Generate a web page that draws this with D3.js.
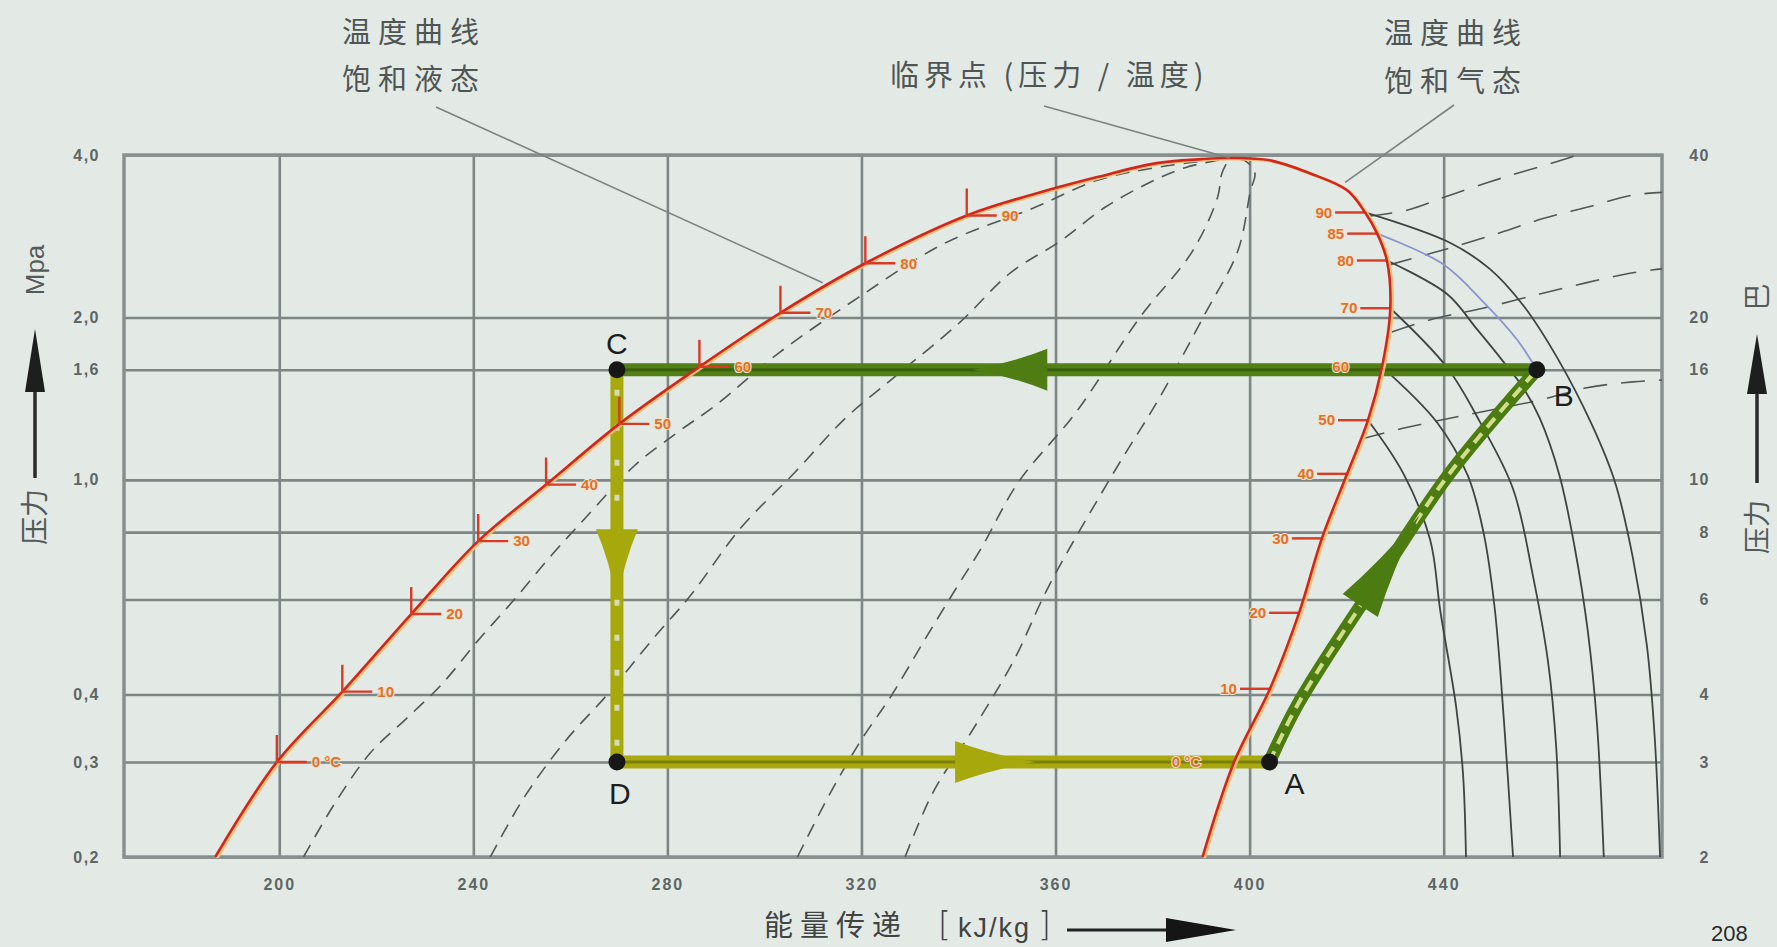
<!DOCTYPE html>
<html><head><meta charset="utf-8">
<script src="https://cdn.jsdelivr.net/npm/d3@7"></script>
<style>
html,body{margin:0;padding:0;background:#e3eae6;overflow:hidden;}
svg{display:block;}
</style></head><body>
<svg id="chart" width="1777" height="947"></svg>
<script>
// ================= DATA =================
const hTicks = [200, 240, 280, 320, 360, 400, 440];
const hDomain = [168, 485];
const pDomain = [0.2, 4.0];
const pTicks = [0.2, 0.3, 0.4, 0.6, 0.8, 1.0, 1.6, 2.0, 4.0];
const pTickLabels = ["0,2", "0,3", "0,4", "", "", "1,0", "1,6", "2,0", "4,0"];
const barTickLabels = ["2", "3", "4", "6", "8", "10", "16", "20", "40"];

// saturation dome  [h kJ/kg, p MPa]
const satLiquid = [[186.8,0.2],[199.5,0.3],[213.0,0.405],[227.2,0.564],[241.0,0.77],[255.0,0.98],[270.1,1.27],[286.6,1.62],[303.3,2.04],[320.8,2.52],[341.7,3.09],[355.8,3.39],[368.6,3.64],[380.5,3.86],[390.0,3.93]];
const criticalPoint = [395.9, 3.95];
const satVapor = [[404.2,3.91],[412.4,3.70],[420.1,3.44],[423.8,3.13],[426.3,2.86],[428.3,2.55],[429.0,2.08],[427.3,1.62],[424.4,1.29],[420.1,1.026],[414.9,0.779],[410.2,0.567],[404.2,0.41],[396.8,0.3],[390.3,0.2]];

// temperature marks
const liquidTemps = [0, 10, 20, 30, 40, 50, 60, 70, 80, 90];
const liquidTempH = [199.5, 213.0, 227.2, 241.0, 255.0, 270.1, 286.6, 303.3, 320.8, 341.7];
const liquidTempP = [0.3, 0.405, 0.564, 0.77, 0.98, 1.27, 1.62, 2.04, 2.52, 3.09];
const vaporTemps = [0, 10, 20, 30, 40, 50, 60, 70, 80, 85, 90];
const vaporTempH = [396.8, 404.2, 410.2, 414.9, 420.1, 424.4, 427.3, 429.0, 428.3, 426.3, 423.8];
const vaporTempP = [0.3, 0.41, 0.567, 0.779, 1.026, 1.29, 1.62, 2.08, 2.55, 2.86, 3.13];

// constant-quality lines (dashed, inside dome)
const quality1 = [[205.0,0.2],[211.4,0.251],[218.8,0.312],[226.2,0.361],[233.5,0.418],[240.9,0.503],[248.3,0.598],[256.3,0.728],[262.9,0.846],[273.2,1.062],[282.1,1.225],[290.0,1.376],[302.8,1.714],[319.1,2.17],[337.0,2.74],[355.8,3.20],[368.6,3.59],[381.4,3.80]];
const quality2 = [[243.5,0.2],[250.6,0.259],[259.2,0.330],[267.3,0.397],[277.0,0.507],[284.8,0.611],[295.1,0.814],[306.2,1.031],[316.7,1.301],[326.6,1.546],[340.4,1.963],[350.7,2.42],[361.0,2.77],[370.2,3.20],[379.5,3.56],[386.7,3.79]];
const quality3 = [[306.8,0.2],[313.6,0.263],[320.0,0.330],[326.3,0.4],[332.9,0.503],[339.3,0.625],[344.8,0.750],[352.3,0.989],[364.3,1.337],[377.2,1.99],[388.3,2.66],[393.4,3.34],[394.3,3.70]];
const quality4 = [[329.0,0.2],[334.7,0.263],[343.0,0.345],[351.3,0.461],[358.6,0.635],[372.0,1.032],[381.4,1.418],[390.8,2.03],[397.6,2.66],[400.2,3.44],[401.1,3.70],[399.1,3.90]];

// isotherms in superheated region (solid)
const iso50 = [[424.4,1.29],[431.6,1.031],[437.2,0.775],[439.3,0.572],[442.6,0.378],[444.0,0.284],[444.6,0.2]];
const iso60 = [[427.3,1.62],[438.6,1.279],[445.0,1.017],[448.2,0.8],[450.5,0.58],[452.4,0.36],[454.3,0.2]];
const iso70 = [[429.0,2.08],[440.7,1.615],[447.5,1.279],[454.3,0.962],[458.4,0.664],[461.5,0.461],[463.2,0.319],[464.0,0.2]];
const iso80 = [[428.3,2.55],[440.7,2.21],[446.9,1.90],[452.2,1.66],[456.4,1.481],[459.8,1.301],[463.9,1.017],[467.0,0.750],[469.7,0.525],[471.6,0.353],[473.0,0.2]];
const iso90 = [[423.8,3.13],[441.3,2.75],[449.5,2.46],[456.5,2.10],[463.3,1.69],[470.5,1.268],[475.3,0.991],[479.0,0.717],[481.9,0.492],[483.5,0.333],[484.6,0.2]];
const iso85 = [[426.3,2.86],[439.9,2.51],[448.1,2.14],[455.1,1.82],[459.2,1.6]];

// isentropes in superheated region (dashed)
const isen1 = [[424.5,3.08],[432.4,3.16],[441.3,3.37],[452.6,3.64],[464.2,3.91],[467.5,4.0]];
const isen2 = [[428.6,2.50],[441.3,2.69],[451.6,2.87],[460.5,3.05],[469.5,3.20],[479.0,3.37],[485.0,3.41]];
const isen3 = [[429.3,1.88],[438.6,1.995],[448.1,2.08],[459.8,2.21],[469.5,2.32],[479.0,2.42],[485.0,2.46]];
const isen4 = [[423.0,1.19],[431.6,1.246],[441.3,1.301],[459.8,1.406],[469.5,1.481],[479.0,1.519],[485.0,1.531]];

// refrigeration cycle
const cycleNames = ["A", "B", "C", "D"];
const cycleH = [404.1, 459.2, 269.6, 269.6];
const cycleP = [0.3, 1.6, 1.6, 0.3];
const compression = [[404.1,0.3],[410.1,0.386],[427.5,0.675],[441.3,1.03],[459.2,1.6]];
// arrowheads: [base, tip]
const flowArrows = [
  [[358.3,1.6],[342.9,1.6]],
  [[269.6,0.81],[269.6,0.598]],
  [[339.3,0.3],[355.8,0.3]],
  [[422.8,0.585],[435.0,0.86]]
];

// annotation anchors on the chart [h, p]
const anchorLiquid = [312.0, 2.32];
const anchorVapor = [419.7, 3.56];

// ================= DRAW =================
const W = 1777, H = 947;
const L = 124, R = 1662, T = 155, B = 857;
const x = d3.scaleLinear().domain(hDomain).range([L, R]);
const y = d3.scaleLog().domain(pDomain).range([B, T]);
const svg = d3.select("#chart");
svg.append("rect").attr("width", W).attr("height", H).attr("fill", "#e3eae6");

svg.append("defs").append("clipPath").attr("id", "plot")
  .append("rect").attr("x", L).attr("y", T - 2).attr("width", R - L).attr("height", B - T + 2);

const gridColor = "#7d8684";
// grid via axes
const gx = svg.append("g").attr("transform", `translate(0,${B})`)
  .call(d3.axisBottom(x).tickValues(hTicks).tickSize(-(B - T)).tickFormat(""));
gx.select(".domain").remove();
gx.selectAll("line").attr("stroke", gridColor).attr("stroke-width", 2.6);
const gy = svg.append("g").attr("transform", `translate(${L},0)`)
  .call(d3.axisLeft(y).tickValues(pTicks).tickSize(-(R - L)).tickFormat(""));
gy.select(".domain").remove();
gy.selectAll("line").attr("stroke", gridColor).attr("stroke-width", 2.6);
svg.append("rect").attr("x", L).attr("y", T).attr("width", R - L).attr("height", B - T)
  .attr("fill", "none").attr("stroke", "#87908e").attr("stroke-width", 3.5);

// tick labels
const tickFont = "'Liberation Sans', Arial, sans-serif";
const axL = svg.append("g").attr("transform", `translate(${L},0)`)
  .call(d3.axisLeft(y).tickValues(pTicks).tickSize(0).tickPadding(24)
    .tickFormat(d => pTickLabels[pTicks.indexOf(d)]));
axL.select(".domain").remove();
axL.selectAll("text").attr("font-size", 16).attr("font-family", tickFont)
  .attr("fill", "#5d6664").attr("letter-spacing", 1.5).attr("font-weight", "bold");
const axR = svg.append("g").attr("transform", `translate(${R},0)`)
  .call(d3.axisRight(y).tickValues(pTicks).tickSize(0).tickPadding(0)
    .tickFormat(d => barTickLabels[pTicks.indexOf(d)]));
axR.select(".domain").remove();
axR.selectAll("text").attr("x", 48).attr("text-anchor", "end").attr("font-size", 16)
  .attr("font-family", tickFont).attr("fill", "#5d6664").attr("letter-spacing", 1.5).attr("font-weight", "bold");
const axB = svg.append("g").attr("transform", `translate(0,${B})`)
  .call(d3.axisBottom(x).tickValues(hTicks).tickSize(0).tickPadding(22));
axB.select(".domain").remove();
axB.selectAll("text").attr("font-size", 16).attr("font-family", tickFont)
  .attr("fill", "#5d6664").attr("letter-spacing", 2).attr("font-weight", "bold");

const line = d3.line().x(d => x(d[0])).y(d => y(d[1])).curve(d3.curveCatmullRom.alpha(0.5));
const plot = svg.append("g").attr("clip-path", "url(#plot)");

// quality dashed lines
[quality1, quality2, quality3, quality4].forEach(q => {
  plot.append("path").attr("d", line(q.concat([criticalPoint]))).attr("fill", "none")
    .attr("stroke", "#4f5856").attr("stroke-width", 1.6).attr("stroke-dasharray", "14,9");
});
// isentropes
[isen1, isen2, isen3, isen4].forEach(s => {
  plot.append("path").attr("d", line(s)).attr("fill", "none")
    .attr("stroke", "#4f5856").attr("stroke-width", 1.6).attr("stroke-dasharray", "24,14");
});
// isotherms
[iso50, iso60, iso70, iso80, iso90].forEach(s => {
  plot.append("path").attr("d", line(s)).attr("fill", "none")
    .attr("stroke", "#3d4543").attr("stroke-width", 1.8);
});
plot.append("path").attr("d", line(iso85)).attr("fill", "none")
  .attr("stroke", "#8c95cc").attr("stroke-width", 1.8);

// vapor tick lines (beneath cycle)
const tickRed = "#d83a24";
const vMarks = vaporTemps.map((t, i) => ({ t, h: vaporTempH[i], p: vaporTempP[i] }));
const lMarks = liquidTemps.map((t, i) => ({ t, h: liquidTempH[i], p: liquidTempP[i] }));
svg.append("g").selectAll("line").data(vMarks).join("line")
  .attr("x1", d => x(d.h)).attr("x2", d => x(d.h) - 30)
  .attr("y1", d => y(d.p)).attr("y2", d => y(d.p))
  .attr("stroke", tickRed).attr("stroke-width", 2.4);

// cycle lines
const cy = svg.append("g");
const P = i => [x(cycleH[i]), y(cycleP[i])];
const segs = d3.line();
// C -> D (yellow vertical)
cy.append("path").attr("d", segs([P(2), P(3)])).attr("stroke", "#a7a80c").attr("stroke-width", 13).attr("fill", "none");
cy.append("path").attr("d", segs([P(2), P(3)])).attr("stroke", "#d3dcb6").attr("stroke-width", 5)
  .attr("stroke-dasharray", "6,29").attr("stroke-dashoffset", -20).attr("fill", "none");
// D -> A (yellow horizontal)
cy.append("path").attr("d", segs([P(3), P(0)])).attr("stroke", "#a9a80f").attr("stroke-width", 13).attr("fill", "none");
cy.append("path").attr("d", segs([P(3), P(0)])).attr("stroke", "#7a800c").attr("stroke-width", 3).attr("fill", "none");
// B -> C (green)
cy.append("path").attr("d", segs([P(1), P(2)])).attr("stroke", "#527f16").attr("stroke-width", 13).attr("fill", "none");
cy.append("path").attr("d", segs([P(1), P(2)])).attr("stroke", "#3b600d").attr("stroke-width", 3).attr("fill", "none");
// A -> B (green, compression)
cy.append("path").attr("d", line(compression)).attr("stroke", "#4c7b12").attr("stroke-width", 13).attr("fill", "none");
cy.append("path").attr("d", line(compression)).attr("stroke", "#d0de8a").attr("stroke-width", 4)
  .attr("stroke-dasharray", "12,8").attr("fill", "none");

const arrowColors = ["#4f7d14", "#a6a80c", "#a6a80c", "#4c7b12"];
flowArrows.forEach((a, i) => {
  const x0 = x(a[0][0]), y0 = y(a[0][1]), x1 = x(a[1][0]), y1 = y(a[1][1]);
  const dx = x1 - x0, dy = y1 - y0, len = Math.hypot(dx, dy), nx = -dy / len, ny = dx / len;
  const hw = 21;
  const mx = x0 + dx * 0.45, my = y0 + dy * 0.45;
  cy.append("path")
    .attr("d", `M${x0 + nx * hw},${y0 + ny * hw}Q${mx + nx * hw * 0.35},${my + ny * hw * 0.35} ${x1},${y1}Q${mx - nx * hw * 0.35},${my - ny * hw * 0.35} ${x0 - nx * hw},${y0 - ny * hw}Z`)
    .attr("fill", arrowColors[i]);
});

// saturation dome (red)
const dome = satLiquid.concat([criticalPoint], satVapor);
svg.append("path").attr("d", line(dome)).attr("fill", "none").attr("transform", "translate(2,1)")
  .attr("stroke", "#f1c27a").attr("stroke-width", 3).attr("clip-path", "url(#plot)");
svg.append("path").attr("d", line(dome)).attr("fill", "none")
  .attr("stroke", "#d3261b").attr("stroke-width", 2.6).attr("clip-path", "url(#plot)");

// liquid L-marks
const lm = svg.append("g");
lm.selectAll("path").data(lMarks).join("path")
  .attr("d", d => { const a = x(d.h), b = y(d.p); return `M${a},${b - 27}L${a},${b}L${a + 30},${b}`; })
  .attr("fill", "none").attr("stroke", tickRed).attr("stroke-width", 2.4);
const tempFont = "'Liberation Sans', Arial, sans-serif";
const tempLabel = t => t === 0 ? "0 °C" : String(t);
lm.selectAll("text").data(lMarks).join("text")
  .attr("x", d => x(d.h) + 35).attr("y", d => y(d.p)).attr("dy", "0.35em")
  .attr("font-size", 15).attr("font-family", tempFont).attr("font-weight", "bold")
  .attr("fill", "#e0702c").attr("stroke", "#f6e4cc").attr("stroke-width", 2).attr("paint-order", "stroke")
  .text(d => tempLabel(d.t));
svg.append("g").selectAll("text").data(vMarks).join("text")
  .attr("x", d => x(d.h) - 33).attr("y", d => y(d.p)).attr("dy", "0.35em").attr("text-anchor", "end")
  .attr("font-size", 15).attr("font-family", tempFont).attr("font-weight", "bold")
  .attr("fill", "#e0702c").attr("stroke", "#f6e4cc").attr("stroke-width", 2).attr("paint-order", "stroke")
  .text(d => tempLabel(d.t));

// cycle points and letters
const pts = cycleNames.map((n, i) => ({ n, h: cycleH[i], p: cycleP[i] }));
svg.append("g").selectAll("circle").data(pts).join("circle")
  .attr("cx", d => x(d.h)).attr("cy", d => y(d.p)).attr("r", 8.5).attr("fill", "#161716");
const letterOff = { A: [25, 32], B: [27, 36], C: [0, -16], D: [3, 42] };
svg.append("g").selectAll("text").data(pts).join("text")
  .attr("x", d => x(d.h) + letterOff[d.n][0]).attr("y", d => y(d.p) + letterOff[d.n][1])
  .attr("text-anchor", "middle").attr("font-size", 30).attr("font-family", "'Liberation Sans', Arial, sans-serif")
  .attr("fill", "#1c1e1d").text(d => d.n);

// ================= TEXT / ANNOTATIONS =================
const cjk = "'Noto Sans CJK SC', 'Noto Sans', sans-serif";
const annColor = "#4f5554";
const ann = svg.append("g").attr("font-family", cjk).attr("fill", annColor).attr("font-size", 29);
ann.append("text").attr("x", 342).attr("y", 43).attr("letter-spacing", 7).text("温度曲线");
ann.append("text").attr("x", 342).attr("y", 90).attr("letter-spacing", 7).text("饱和液态");
ann.append("text").attr("x", 1384).attr("y", 44).attr("letter-spacing", 7).text("温度曲线");
ann.append("text").attr("x", 1384).attr("y", 92).attr("letter-spacing", 7).text("饱和气态");
ann.append("text").attr("x", 890).attr("y", 86).attr("letter-spacing", 5).text("临界点 (压力 / 温度)");

const leaders = svg.append("g").attr("stroke", "#7a8381").attr("stroke-width", 1.6).attr("fill", "none");
leaders.append("line").attr("x1", 436).attr("y1", 107).attr("x2", x(anchorLiquid[0])).attr("y2", y(anchorLiquid[1]));
leaders.append("line").attr("x1", 1044).attr("y1", 106).attr("x2", x(criticalPoint[0])).attr("y2", y(criticalPoint[1]));
leaders.append("line").attr("x1", 1454).attr("y1", 105).attr("x2", x(anchorVapor[0])).attr("y2", y(anchorVapor[1]));

// left axis title
const lt = svg.append("g").attr("font-family", cjk).attr("fill", "#545a59");
lt.append("text").attr("transform", "translate(44,270) rotate(-90)").attr("text-anchor", "middle")
  .attr("font-family", "'Liberation Sans', Arial, sans-serif").attr("font-size", 26).text("Mpa");
lt.append("line").attr("x1", 35).attr("x2", 35).attr("y1", 478).attr("y2", 380).attr("stroke", "#2a2c2b").attr("stroke-width", 3.5);
lt.append("path").attr("d", "M35,329L25,392L45,392Z").attr("fill", "#1d1f1e");
lt.append("text").attr("transform", "translate(45,517) rotate(-90)").attr("text-anchor", "middle")
  .attr("font-size", 28).text("压力");

// right axis title
const rt = svg.append("g").attr("font-family", cjk).attr("fill", "#545a59");
rt.append("text").attr("transform", "translate(1767,297) rotate(-90)").attr("text-anchor", "middle")
  .attr("font-size", 27).text("巴");
rt.append("line").attr("x1", 1757).attr("x2", 1757).attr("y1", 483).attr("y2", 385).attr("stroke", "#2a2c2b").attr("stroke-width", 3.5);
rt.append("path").attr("d", "M1757,334L1747,394L1767,394Z").attr("fill", "#1d1f1e");
rt.append("text").attr("transform", "translate(1767,527) rotate(-90)").attr("text-anchor", "middle")
  .attr("font-size", 27).text("压力");

// bottom axis title
const bt = svg.append("g").attr("fill", "#3f4443");
bt.append("text").attr("x", 764).attr("y", 936).attr("font-family", cjk).attr("font-size", 29)
  .attr("letter-spacing", 7).text("能量传递");
bt.append("text").attr("x", 938).attr("y", 936).attr("font-family", "'DejaVu Sans', sans-serif")
  .attr("font-size", 33).attr("font-weight", 200).text("[");
bt.append("text").attr("x", 958).attr("y", 937).attr("font-family", "'Liberation Sans', Arial, sans-serif")
  .attr("font-size", 27).attr("letter-spacing", 2).text("kJ/kg");
bt.append("text").attr("x", 1038).attr("y", 936).attr("font-family", "'DejaVu Sans', sans-serif")
  .attr("font-size", 33).attr("font-weight", 200).text("]");
bt.append("line").attr("x1", 1067).attr("x2", 1172).attr("y1", 930).attr("y2", 930).attr("stroke", "#222").attr("stroke-width", 3);
bt.append("path").attr("d", "M1166,918L1236,930L1166,942Z").attr("fill", "#141514");

svg.append("text").attr("x", 1711).attr("y", 941).attr("font-family", "'Liberation Sans', Arial, sans-serif")
  .attr("font-size", 22).attr("fill", "#2a2b2b").text("208");
</script>
</body></html>
